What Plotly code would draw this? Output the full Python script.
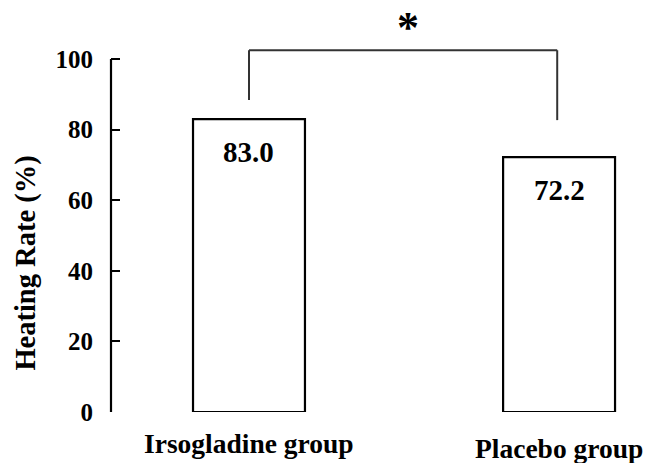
import plotly.graph_objects as go

# Healing rate by treatment group
groups = ["Irsogladine group", "Placebo group"]
rates = [83.0, 72.2]
rate_labels = ["83.0", "72.2"]
y_ticks = [0, 20, 40, 60, 80, 100]
significance = "*"

FONT = "Liberation Serif"
x_pos = list(range(len(groups)))

fig = go.Figure()
fig.add_trace(go.Bar(
    x=x_pos,
    y=rates,
    width=0.361,
    marker=dict(color="white", line=dict(color="black", width=2.2)),
    hoverinfo="skip",
    showlegend=False,
))

# value labels inside the bars, just below each top
for xp, val, lab in zip(x_pos, rates, rate_labels):
    fig.add_annotation(x=xp, y=val, text=f"<b>{lab}</b>", showarrow=False,
                       yanchor="middle", yshift=-33,
                       font=dict(family=FONT, size=29, color="black"))

# group names under the bars
for xp, name, shift in zip(x_pos, groups, [-31, -36]):
    fig.add_annotation(x=xp, y=0, text=f"<b>{name}</b>", showarrow=False,
                       yanchor="middle", yshift=shift,
                       font=dict(family=FONT, size=27.5, color="black"))

# y axis line drawn only up to 100
fig.add_shape(type="line", xref="paper", yref="y", x0=0, x1=0, y0=-0.3, y1=100,
              line=dict(color="black", width=2.2))

# significance bracket
br_col = "#333333"
fig.add_shape(type="line", xref="x", yref="y", x0=0, x1=0, y0=88.4, y1=102.5,
              line=dict(color=br_col, width=2))
fig.add_shape(type="line", xref="x", yref="y", x0=0, x1=0.994, y0=102.5, y1=102.5,
              line=dict(color=br_col, width=2))
fig.add_shape(type="line", xref="x", yref="y", x0=0.994, x1=0.994, y0=82.7, y1=102.5,
              line=dict(color=br_col, width=2))
fig.add_annotation(x=0.513, y=102.5, text=f"<b>{significance}</b>", showarrow=False,
                   yanchor="bottom", yshift=-4,
                   font=dict(family=FONT, size=44, color="black"))

# axis title
fig.add_annotation(xref="paper", yref="paper", x=-0.16, y=0.37,
                   xanchor="center", yanchor="middle",
                   text="<b>Heating Rate (%)</b>", textangle=-90, showarrow=False,
                   font=dict(family=FONT, size=28.5, color="black"))

fig.update_layout(
    width=648, height=463,
    margin=dict(l=111, r=8, t=10, b=51),
    paper_bgcolor="white", plot_bgcolor="white",
    xaxis=dict(range=[-0.445, 1.261], showticklabels=False, showline=False,
               showgrid=False, zeroline=False, ticks=""),
    yaxis=dict(range=[0, 113.9], tickvals=y_ticks,
               ticktext=[f"<b>{t}</b>" for t in y_ticks],
               ticks="inside", ticklen=9, tickwidth=2.2, tickcolor="black",
               ticklabelstandoff=17,
               showline=False, showgrid=False, zeroline=False,
               tickfont=dict(family=FONT, size=25, color="black")),
)

fig.write_html("out.html")
